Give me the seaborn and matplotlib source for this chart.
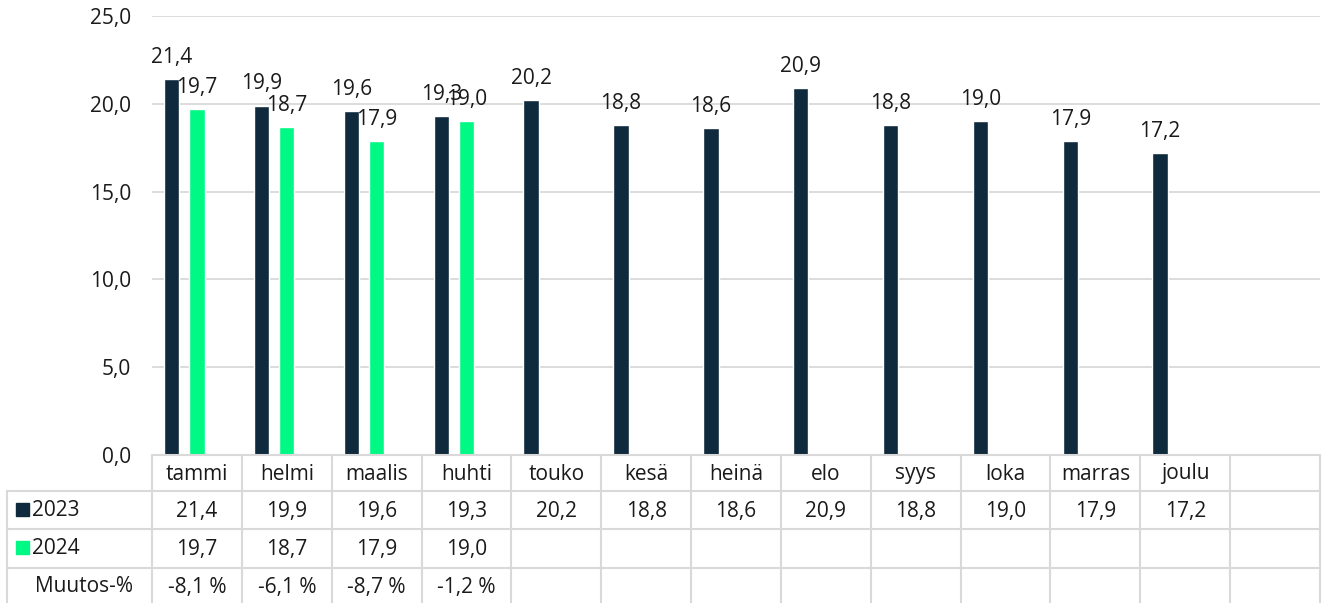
import matplotlib
matplotlib.use('Agg')
import matplotlib.pyplot as plt
import seaborn as sns
import pandas as pd
from matplotlib.patches import Rectangle
from matplotlib.transforms import blended_transform_factory

# Data
kuukaudet = ['tammi', 'helmi', 'maalis', 'huhti', 'touko', 'kesä', 'heinä',
             'elo', 'syys', 'loka', 'marras', 'joulu']
arvot_2023 = [21.4, 19.9, 19.6, 19.3, 20.2, 18.8, 18.6, 20.9, 18.8, 19.0, 17.9, 17.2]
arvot_2024 = [19.7, 18.7, 17.9, 19.0]
muutos = [-8.1, -6.1, -8.7, -1.2]
sarjat = ['2023', '2024', 'Muutos-%']

tumma = '#0f2a3c'
vihrea = '#00f984'
viiva = '#d9d9d9'
teksti = '#1a1a1a'
fs = 15

W, H = 1322, 603

def fi(v, dec=1):
    return f'{v:.{dec}f}'.replace('.', ',')

rows = [{'kk': k, 'vuosi': '2023', 'arvo': v} for k, v in zip(kuukaudet, arvot_2023)]
rows += [{'kk': k, 'vuosi': '2024', 'arvo': v} for k, v in zip(kuukaudet, arvot_2024)]
df = pd.DataFrame(rows)

sns.set_style('white')
plt.rcParams['font.family'] = ['Open Sans', 'DejaVu Sans']

fig = plt.figure(figsize=(W / 100, H / 100), dpi=100)
ax = fig.add_axes([152 / W, 1 - 455 / H, (1320 - 152) / W, (455 - 16) / H])

sns.barplot(data=df, x='kk', y='arvo', hue='vuosi', order=kuukaudet + [''],
            hue_order=sarjat, palette={'2023': tumma, '2024': vihrea, 'Muutos-%': 'white'},
            width=0.84, gap=0.39, saturation=1, legend=False, ax=ax, errorbar=None)

for cont in ax.containers:
    labels = [fi(b.get_height()) if b.get_height() == b.get_height() else '' for b in cont]
    ax.bar_label(cont, labels=labels, padding=8, fontsize=fs, color=teksti)

ax.set_ylim(0, 25)
ax.set_xlim(-0.5, 12.5)
ax.set_yticks([0, 5, 10, 15, 20, 25])
ax.set_yticklabels([fi(t) for t in [0, 5, 10, 15, 20, 25]], fontsize=fs, color=teksti)
ax.tick_params(axis='y', length=0, pad=15)
ax.set_xticks([])
ax.set_xlabel('')
ax.set_ylabel('')
ax.grid(axis='y', color=viiva, linewidth=1.3)
ax.set_axisbelow(True)
for s in ax.spines.values():
    s.set_visible(False)

# Taulukko kaavion alle
tr = blended_transform_factory(ax.transData, fig.transFigure)
def fy(py):
    return 1 - py / H

rivit = [455, 491, 529, 568]
for py in rivit:
    ax.plot([-0.5, 12.5], [fy(py), fy(py)], transform=tr, color=viiva, lw=1.5, clip_on=False)
for py in rivit[1:]:
    fig.add_artist(plt.Line2D([7 / W, 152 / W], [fy(py), fy(py)], color=viiva, lw=1.5))
fig.add_artist(plt.Line2D([7 / W, 7 / W], [fy(491), 0], color=viiva, lw=1.5))
for i in range(14):
    ax.plot([i - 0.5, i - 0.5], [fy(455), 0], transform=tr, color=viiva, lw=1.5, clip_on=False)

for i, k in enumerate(kuukaudet):
    ax.text(i, fy(474), k, transform=tr, ha='center', va='center', fontsize=fs, color=teksti)
for i, v in enumerate(arvot_2023):
    ax.text(i, fy(511), fi(v), transform=tr, ha='center', va='center', fontsize=fs, color=teksti)
for i, v in enumerate(arvot_2024):
    ax.text(i, fy(549), fi(v), transform=tr, ha='center', va='center', fontsize=fs, color=teksti)
for i, v in enumerate(muutos):
    ax.text(i, fy(587), fi(v) + ' %', transform=tr, ha='center', va='center', fontsize=fs, color=teksti)

# Legendan selitteet
for py, nimi, col in [(510, '2023', tumma), (548, '2024', vihrea)]:
    fig.add_artist(Rectangle((16 / W, fy(py + 6)), 13 / W, 13 / H, color=col,
                             transform=fig.transFigure))
    fig.text(32 / W, fy(py + 1), nimi, ha='left', va='center', fontsize=fs, color=teksti)
fig.text(35 / W, fy(587), 'Muutos-%', ha='left', va='center', fontsize=fs, color=teksti)

fig.savefig('out.png', dpi=100)
